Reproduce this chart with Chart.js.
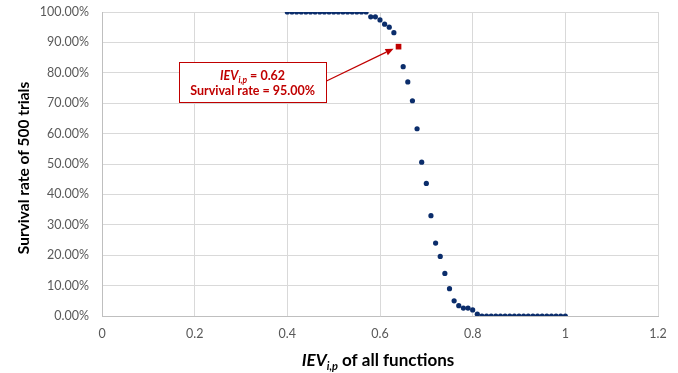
<!DOCTYPE html>
<html>
<head>
<meta charset="utf-8">
<script src="https://cdn.jsdelivr.net/npm/chart.js@4/dist/chart.umd.min.js"></script>
<style>
  html, body { margin: 0; padding: 0; background: #ffffff; }
  #wrap { width: 678px; height: 373px; }
</style>
</head>
<body>
<div id="wrap"><canvas id="c" width="678" height="373"></canvas></div>
<script>
// ---- data ----
const iev = [
  0.40,0.41,0.42,0.43,0.44,0.45,0.46,0.47,0.48,0.49,
  0.50,0.51,0.52,0.53,0.54,0.55,0.56,0.57,0.58,0.59,
  0.60,0.61,0.62,0.63,0.65,0.66,0.67,0.68,0.69,
  0.70,0.71,0.72,0.73,0.74,0.75,0.76,0.77,0.78,0.79,
  0.80,0.81,0.82,0.83,0.84,0.85,0.86,0.87,0.88,0.89,
  0.90,0.91,0.92,0.93,0.94,0.95,0.96,0.97,0.98,0.99,1.00
];
const survival = [
  100,100,100,100,100,100,100,100,100,100,
  100,100,100,100,100,100,100,100,98.4,98.4,
  97.4,96.0,95.0,93.2,82.0,77.0,70.8,61.6,50.6,
  43.6,33.0,24.0,19.6,14.0,9.0,5.0,3.4,2.6,2.6,
  2.0,0.6,0,0,0,0,0,0,0,0,
  0,0,0,0,0,0,0,0,0,0,0
];
const highlightX = [0.64];
const highlightY = [88.6];
const annotationLines = ["IEV", "i,p", " = 0.62", "Survival rate = 95.00%"];
const annotationAnchor = [0.325, 77.0]; // box centre in data units
const xTicks = [0, 0.2, 0.4, 0.6, 0.8, 1, 1.2];
const yTicks = [0,10,20,30,40,50,60,70,80,90,100];
const yTitle = "Survival rate of 500 trials";
const xTitleParts = ["IEV", "i,p", " of all functions"];

const FONT = "Lato, 'Open Sans', sans-serif";
const RED = "#C00000";
const NAVY = "#0B2D6B";

const mainPoints = iev.map((x, i) => ({ x: x, y: survival[i] }));
const hiPoints = highlightX.map((x, i) => ({ x: x, y: highlightY[i] }));

const overlay = {
  id: 'overlay',
  afterDraw(chart) {
    const ctx = chart.ctx;
    const xs = chart.scales.x, ys = chart.scales.y;
    const ca = chart.chartArea;
    ctx.save();

    // ---- y axis title ----
    ctx.fillStyle = "#000";
    ctx.font = "bold 15.5px " + FONT;
    ctx.textAlign = "center";
    ctx.textBaseline = "middle";
    ctx.translate(24, 168);
    ctx.rotate(-Math.PI / 2);
    ctx.fillText(yTitle, 0, 0);
    ctx.setTransform(1, 0, 0, 1, 0, 0);

    // ---- x axis title with subscript ----
    const bigI = "italic bold 17px " + FONT;
    const sub = "italic bold 11px " + FONT;
    const big = "bold 17px " + FONT;
    ctx.textAlign = "left";
    ctx.textBaseline = "alphabetic";
    ctx.font = bigI; const w1 = ctx.measureText(xTitleParts[0]).width;
    ctx.font = sub; const w2 = ctx.measureText(xTitleParts[1]).width;
    ctx.font = big; const w3 = ctx.measureText(xTitleParts[2]).width;
    let tx = 378 - (w1 + w2 + w3) / 2;
    const ty = 366;
    ctx.font = bigI; ctx.fillText(xTitleParts[0], tx, ty); tx += w1;
    ctx.font = sub; ctx.fillText(xTitleParts[1], tx, ty + 4); tx += w2;
    ctx.font = big; ctx.fillText(xTitleParts[2], tx, ty);

    // ---- annotation box ----
    const cx = xs.getPixelForValue(annotationAnchor[0]);
    const cy = ys.getPixelForValue(annotationAnchor[1]);
    const bw = 147, bh = 40;
    const bx = Math.round(cx - bw / 2) + 0.5, by = Math.round(cy - bh / 2) + 0.5;
    ctx.fillStyle = "#fff";
    ctx.fillRect(bx, by, bw, bh);
    ctx.strokeStyle = RED;
    ctx.lineWidth = 1;
    ctx.strokeRect(bx, by, bw, bh);

    ctx.fillStyle = RED;
    const aI = "italic bold 12.5px " + FONT, aS = "italic bold 8.5px " + FONT, aB = "bold 12.5px " + FONT;
    ctx.font = aI; const a1 = ctx.measureText(annotationLines[0]).width;
    ctx.font = aS; const a2 = ctx.measureText(annotationLines[1]).width;
    ctx.font = aB; const a3 = ctx.measureText(annotationLines[2]).width;
    let ax = cx - (a1 + a2 + a3) / 2;
    const l1 = cy - 2;
    ctx.font = aI; ctx.fillText(annotationLines[0], ax, l1); ax += a1;
    ctx.font = aS; ctx.fillText(annotationLines[1], ax, l1 + 3); ax += a2;
    ctx.font = aB; ctx.fillText(annotationLines[2], ax, l1);
    ctx.textAlign = "center";
    ctx.fillText(annotationLines[3], cx, cy + 13);

    // ---- arrow from box to highlighted point ----
    const px = xs.getPixelForValue(highlightX[0]) - 5;
    const py = ys.getPixelForValue(highlightY[0]) + 2;
    const sx = bx + bw, sy = cy - 1;
    ctx.strokeStyle = RED;
    ctx.lineWidth = 1.2;
    const ang = Math.atan2(py - sy, px - sx);
    const hl = 8, hw = 3.5;
    const bxh = px - hl * Math.cos(ang), byh = py - hl * Math.sin(ang);
    ctx.beginPath();
    ctx.moveTo(sx, sy);
    ctx.lineTo(bxh, byh);
    ctx.stroke();
    ctx.beginPath();
    ctx.moveTo(px, py);
    ctx.lineTo(bxh + hw * Math.sin(ang), byh - hw * Math.cos(ang));
    ctx.lineTo(bxh - hw * Math.sin(ang), byh + hw * Math.cos(ang));
    ctx.closePath();
    ctx.fillStyle = RED;
    ctx.fill();

    ctx.restore();
  }
};

new Chart(document.getElementById('c'), {
  type: 'scatter',
  data: {
    datasets: [
      {
        label: 'highlight',
        data: hiPoints,
        pointStyle: 'rect',
        pointRadius: 4,
        backgroundColor: RED,
        borderColor: RED,
        borderWidth: 0,
        order: 0
      },
      {
        label: 'survival',
        data: mainPoints,
        pointStyle: 'circle',
        pointRadius: 2.6,
        backgroundColor: NAVY,
        borderColor: NAVY,
        borderWidth: 0,
        order: 1
      }
    ]
  },
  options: {
    responsive: false,
    animation: false,
    devicePixelRatio: 1,
    layout: { padding: { left: 0, right: 20, top: 12, bottom: 0 } },
    plugins: { legend: { display: false }, tooltip: { enabled: false } },
    scales: {
      x: {
        type: 'linear',
        min: 0, max: 1.2,
        afterBuildTicks(s) { s.ticks = xTicks.map(v => ({ value: v })); },
        afterFit(s) { s.height = 57; s.paddingLeft = 0; s.paddingRight = 0; },
        ticks: {
          padding: 10,
          color: '#595959',
          font: { family: FONT, size: 12.5 },
          callback: v => String(Number(v.toFixed(1)))
        },
        grid: { color: '#d9d9d9', drawTicks: false },
        border: { color: '#bfbfbf' }
      },
      y: {
        type: 'linear',
        min: 0, max: 100,
        afterBuildTicks(s) { s.ticks = yTicks.map(v => ({ value: v })); },
        afterFit(s) { s.width = 102; s.paddingTop = 0; s.paddingBottom = 0; },
        ticks: {
          padding: 13,
          color: '#595959',
          font: { family: FONT, size: 12.5 },
          callback: v => v.toFixed(2) + '%'
        },
        grid: { color: '#d9d9d9', drawTicks: false },
        border: { color: '#bfbfbf' }
      }
    }
  },
  plugins: [overlay]
});
</script>
</body>
</html>
